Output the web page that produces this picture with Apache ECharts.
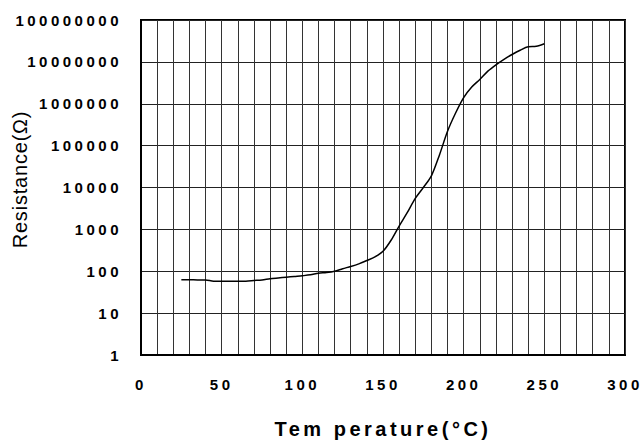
<!DOCTYPE html>
<html>
<head>
<meta charset="utf-8">
<script src="https://cdn.jsdelivr.net/npm/echarts@6/dist/echarts.min.js"></script>
<style>
  html, body { margin: 0; padding: 0; background: #fff; }
  #chart { width: 644px; height: 444px; }
</style>
</head>
<body>
<div id="chart"></div>
<script>
// temperature in °C
var temps = [25, 30, 35, 40, 45, 50, 55, 60, 65, 70, 75, 80, 85, 90, 95, 100,
  105, 110, 115, 120, 125, 130, 135, 140, 145, 150, 155, 160, 165, 170, 175,
  180, 185, 190, 195, 200, 205, 210, 215, 220, 225, 230, 235, 240, 245, 250];
// resistance in ohm
var resist = [63, 63, 62, 62, 58, 58, 58, 58, 58, 60, 62, 66, 69, 72, 75, 78,
  82, 90, 93, 100, 115, 130, 150, 180, 220, 300, 550, 1200, 2500, 5500, 10000,
  19000, 60000, 220000, 600000, 1400000, 2500000, 3800000, 6000000, 8500000,
  11500000, 15000000, 19000000, 23000000, 23500000, 27000000];

var points = [];
for (var i = 0; i < temps.length; i++) {
  points.push([temps[i], resist[i]]);
}

// svg renderer so the texts can get letter spacing like the original
var myChart = echarts.init(document.getElementById("chart"), null, { renderer: "svg" });
var labelFont = { fontFamily: "Liberation Sans", fontWeight: "bold", fontSize: 15, color: "#000" };

var option = {
  animation: false,
  grid: {
    left: 141,
    right: 19,
    top: 20,
    bottom: 89,
    show: true,
    borderColor: "#000",
    borderWidth: 2
  },
  xAxis: {
    type: "value",
    min: 0,
    max: 300,
    interval: 10,
    name: "Tem perature(°C)",
    nameLocation: "middle",
    nameGap: 64,
    nameTextStyle: { fontFamily: "Liberation Sans", fontWeight: "bold", fontSize: 20, color: "#000" },
    axisLine: { show: true, lineStyle: { color: "#000", width: 2 } },
    axisTick: { show: false },
    axisLabel: Object.assign({
      margin: 22,
      formatter: function (v) { return v % 50 === 0 ? String(v) : ""; }
    }, labelFont),
    splitLine: { show: true, lineStyle: { color: "#333", width: 1 } }
  },
  yAxis: {
    type: "log",
    logBase: 10,
    min: 1,
    max: 100000000,
    name: "Resistance(Ω)",
    nameLocation: "middle",
    nameGap: 111,
    nameTextStyle: { fontFamily: "Liberation Sans", fontSize: 20, color: "#000", padding: [0, 0, 0, 16] },
    axisLine: { show: true, lineStyle: { color: "#000", width: 2 } },
    axisTick: { show: false },
    axisLabel: Object.assign({
      margin: 19,
      formatter: function (v) { return String(Math.round(v)); }
    }, labelFont),
    splitLine: { show: true, lineStyle: { color: "#222", width: 1 } }
  },
  series: [
    {
      type: "line",
      data: points,
      showSymbol: false,
      smooth: 0.3,
      lineStyle: { color: "#000", width: 1.5 }
    }
  ]
};
myChart.setOption(option);

// spread the letters like in the source picture
function spaceText() {
  var texts = document.querySelectorAll("#chart text");
  texts.forEach(function (el) {
    var size = parseFloat(getComputedStyle(el).fontSize);
    var sp = 0;
    if (size === 15) sp = 3.5;
    else if (size === 20 && getComputedStyle(el).fontWeight >= 600) sp = 3.5;
    else if (size === 20) sp = 0.8;
    el.style.letterSpacing = sp + "px";
  });
}
spaceText();
myChart.on("finished", spaceText);
</script>
</body>
</html>
